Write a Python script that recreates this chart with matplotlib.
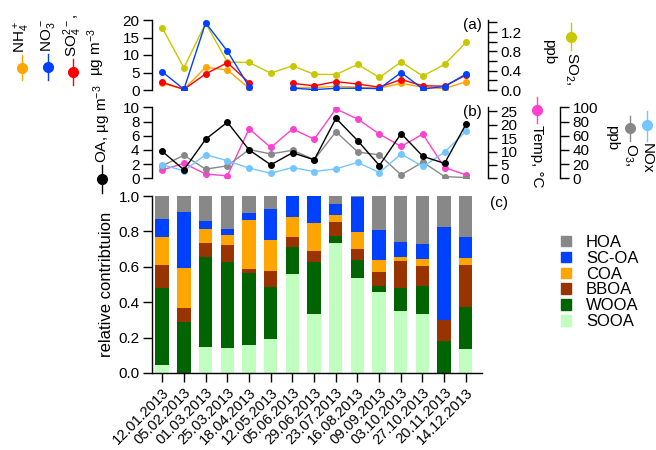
import numpy as np
import matplotlib.pyplot as plt
from matplotlib.lines import Line2D
from matplotlib.patches import Patch

plt.rcParams['font.family'] = ['Liberation Sans', 'DejaVu Sans']
plt.rcParams['mathtext.default'] = 'regular'
plt.rcParams['font.size'] = 11

nan = np.nan

dates = ["12.01.2013", "05.02.2013", "01.03.2013", "25.03.2013", "18.04.2013",
         "12.05.2013", "05.06.2013", "29.06.2013", "23.07.2013", "16.08.2013",
         "09.09.2013", "03.10.2013", "27.10.2013", "20.11.2013", "14.12.2013"]

# (a) inorganic species, ug m-3, and SO2, ppb
nh4 = [1.9, 0.2, 6.5, 5.7, 0.5, nan, 0.7, 0.6, 1.1, 0.8, 0.5, 1.9, 0.8, 0.4, 2.4]
no3 = [5.2, 0.2, 19.2, 11.1, 0.95, nan, 0.55, 0.1, 0.5, 0.5, 0.4, 5.0, 0.3, 1.0, 4.6]
so4 = [2.2, 0.2, 4.6, 7.8, 2.1, nan, 1.9, 1.2, 2.4, 1.7, 0.8, 3.0, 1.2, 1.1, 4.3]
so2 = [1.29, 0.46, 1.385, 0.58, 0.57, 0.35, 0.50, 0.325, 0.32, 0.53, 0.26, 0.58, 0.29, 0.53, 0.99]

# (b) OA, temperature, O3, NOx
oa = [3.8, 1.2, 5.5, 7.9, 4.0, 1.9, 3.6, 2.6, 8.45, 5.3, 1.8, 6.3, 3.1, 2.1, 7.7]
temp = [3.1, 5.6, 1.6, 0.9, 18.5, 11.5, 18.4, 14.6, 25.9, 22.1, 16.5, 11.9, 16.5, 4.0, 1.25]
o3 = [17.6, 32.4, 12.9, 17.6, 40.5, 34.3, 39.5, 26.2, 65.7, 37.0, 33.0, 4.8, 22.9, 2.4, 1.0]
nox = [19.0, 10.5, 33.3, 24.8, 14.3, 7.1, 15.2, 9.5, 13.3, 22.4, 8.1, 34.3, 16.7, 36.7, 66.7]

# (c) relative contribution of OA factors
sooa = [0.047, 0.0, 0.147, 0.141, 0.158, 0.192, 0.56, 0.335, 0.733, 0.534, 0.459, 0.353, 0.333, 0.0, 0.137]
wooa = [0.432, 0.286, 0.507, 0.485, 0.406, 0.293, 0.154, 0.291, 0.041, 0.105, 0.035, 0.126, 0.156, 0.179, 0.235]
bboa = [0.132, 0.084, 0.079, 0.098, 0.026, 0.094, 0.053, 0.064, 0.081, 0.06, 0.074, 0.156, 0.113, 0.118, 0.239]
coa = [0.156, 0.222, 0.079, 0.056, 0.275, 0.173, 0.116, 0.16, 0.038, 0.10, 0.071, 0.019, 0.043, 0.0, 0.041]
scoa = [0.101, 0.316, 0.049, 0.032, 0.037, 0.175, 0.117, 0.15, 0.062, 0.193, 0.169, 0.085, 0.084, 0.530, 0.119]
hoa = [0.132, 0.092, 0.139, 0.188, 0.098, 0.073, 0.0, 0.0, 0.045, 0.008, 0.192, 0.261, 0.271, 0.173, 0.229]

factors = ["SOOA", "WOOA", "BBOA", "COA", "SC-OA", "HOA"]
factor_values = [sooa, wooa, bboa, coa, scoa, hoa]
factor_colors = ["#c0ffc0", "#006400", "#993300", "#ffa500", "#0040ff", "#888888"]

W, H = 656, 450
TICK = dict(direction="out", length=6.5, width=1.0, labelsize=11, pad=2.5)


def fx(x):
    return x / W


def fy(y):
    return 1 - y / H


def style_axis(ax, side="left"):
    for s in ax.spines.values():
        s.set_visible(False)
    ax.spines[side].set_visible(True)
    ax.spines[side].set_linewidth(1.0)
    ax.tick_params(axis="y", **TICK)
    ax.tick_params(axis="x", bottom=False, labelbottom=False)


def legend_marker(fig, x, y, y1, y2, color):
    fig.add_artist(Line2D([fx(x), fx(x), fx(x)], [fy(y1), fy(y), fy(y2)],
                          transform=fig.transFigure, color=color, lw=1.0,
                          marker="o", ms=7, markevery=[1]))


fig = plt.figure(figsize=(6.56, 4.5), dpi=100)
xpos = np.arange(len(dates))
xlim = (-0.47, 15.0)
lk = dict(lw=1.0, marker="o", ms=4)

# ---- panel (a)
ax_a = fig.add_axes([fx(152), fy(90), fx(336), 70 / H])
ax_a.patch.set_alpha(0)
ax_a2 = ax_a.twinx()
ax_a2.plot(xpos, so2, color="#c8c800", **lk)
ax_a.plot(xpos, nh4, color="#ffa500", **lk)
ax_a.plot(xpos, so4, color="#ff0000", **lk)
ax_a.plot(xpos, no3, color="#0040ff", **lk)
ax_a.set_zorder(ax_a2.get_zorder() + 1)
ax_a.set_xlim(xlim)
ax_a.set_ylim(0, 20)
ax_a.set_yticks([0, 5, 10, 15, 20])
ax_a2.set_ylim(0, 1.45)
ax_a2.set_yticks([0, 0.4, 0.8, 1.2])
ax_a2.set_yticks(np.arange(0, 1.41, 0.2), minor=True)
ax_a2.set_yticklabels(["0.0", "0.4", "0.8", "1.2"])
style_axis(ax_a, "left")
style_axis(ax_a2, "right")
ax_a2.tick_params(axis="y", which="minor", direction="out", length=6.5, width=1.0)
ax_a.text(14.3, 18.5, "(a)", ha="center", va="center", fontsize=11)

# ---- panel (b)
ax_b = fig.add_axes([fx(152), fy(178.3), fx(336), 71 / H])
ax_b.patch.set_alpha(0)
ax_t = ax_b.twinx()
ax_p = ax_b.twinx()
ax_p.spines["right"].set_position(("axes", (560 - 152) / 336))
ax_p.plot(xpos, o3, color="#888888", **lk)
ax_p.plot(xpos, nox, color="#73c6ff", **lk)
ax_t.plot(xpos, temp, color="#ff40d0", **lk)
ax_b.plot(xpos, oa, color="black", **lk)
ax_b.set_zorder(ax_p.get_zorder() + 2)
ax_b.set_xlim(xlim)
ax_b.set_ylim(0, 10)
ax_b.set_yticks([0, 2, 4, 6, 8, 10])
ax_t.set_ylim(0, 26.5)
ax_t.set_yticks([0, 5, 10, 15, 20, 25])
ax_p.set_ylim(0, 100)
ax_p.set_yticks([0, 20, 40, 60, 80, 100])
style_axis(ax_b, "left")
style_axis(ax_t, "right")
style_axis(ax_p, "right")
ax_b.text(14.3, 9.3, "(b)", ha="center", va="center", fontsize=11)

# ---- panel (c)
ax_c = fig.add_axes([fx(152), fy(373), fx(330), 177 / H])
bottom = np.zeros(len(dates))
handles = []
for name, vals, col in zip(factors, factor_values, factor_colors):
    ax_c.bar(xpos, vals, width=0.62, bottom=bottom, color=col, linewidth=0)
    bottom += np.array(vals)
    handles.append(Patch(color=col, label=name))
ax_c.set_xlim(-0.47, 14.75)
ax_c.set_ylim(0, 1.0)
ax_c.set_yticks(np.arange(0, 1.01, 0.2))
ax_c.set_yticklabels(["0.0", "0.2", "0.4", "0.6", "0.8", "1.0"])
for s in ["top", "right"]:
    ax_c.spines[s].set_visible(False)
ax_c.spines["left"].set_linewidth(1.0)
ax_c.spines["bottom"].set_linewidth(1.0)
ax_c.tick_params(**TICK)
ax_c.set_xticks(xpos)
ax_c.set_xticklabels(dates, rotation=45, ha="right", rotation_mode="anchor", fontsize=10.5)
ax_c.set_ylabel("relative contribtuion", fontsize=12, labelpad=3)
ax_c.text(15.55, 0.96, "(c)", ha="center", va="center", fontsize=11)
fig.legend(handles=handles[::-1], loc="upper left", bbox_to_anchor=(fx(561), fy(235)),
           frameon=False, handlelength=0.6, handleheight=0.6, handletextpad=0.9,
           labelspacing=0.05, borderpad=0, borderaxespad=0, fontsize=12)

# ---- rotated legends (a)
legend_marker(fig, 22, 68, 55, 80, "#ffa500")
legend_marker(fig, 48, 67, 54, 80, "#0040ff")
legend_marker(fig, 73, 72, 59, 85, "#ff0000")
fig.text(fx(22), fy(53), "NH$_4^+$", rotation=90, ha="center", va="bottom")
fig.text(fx(48), fy(52), "NO$_3^-$", rotation=90, ha="center", va="bottom")
fig.text(fx(73), fy(57), "SO$_4^{2-}$,", rotation=90, ha="center", va="bottom")
fig.text(fx(96), fy(52), "µg m$^{-3}$", rotation=90, ha="center", va="center")

legend_marker(fig, 571, 37, 23, 50, "#c8c800")
fig.text(fx(571), fy(52), "SO$_2$,", rotation=270, ha="center", va="top")
fig.text(fx(549), fy(52), "ppb", rotation=270, ha="center", va="center")

# ---- rotated legends (b)
legend_marker(fig, 102, 179, 165, 193, "black")
fig.text(fx(102), fy(163), "OA, µg m$^{-3}$", rotation=90, ha="center", va="bottom")

legend_marker(fig, 537, 110, 97, 123, "#ff40d0")
fig.text(fx(537), fy(125), "Temp, °C", rotation=270, ha="center", va="top")
fig.text(fx(612), fy(138), "ppb", rotation=270, ha="center", va="center")
legend_marker(fig, 630, 128, 116, 141, "#888888")
legend_marker(fig, 647, 125, 111, 141, "#73c6ff")
fig.text(fx(630), fy(143), "O$_3$,", rotation=270, ha="center", va="top")
fig.text(fx(647), fy(143), "NOx", rotation=270, ha="center", va="top")

plt.savefig("out.png", dpi=100)
